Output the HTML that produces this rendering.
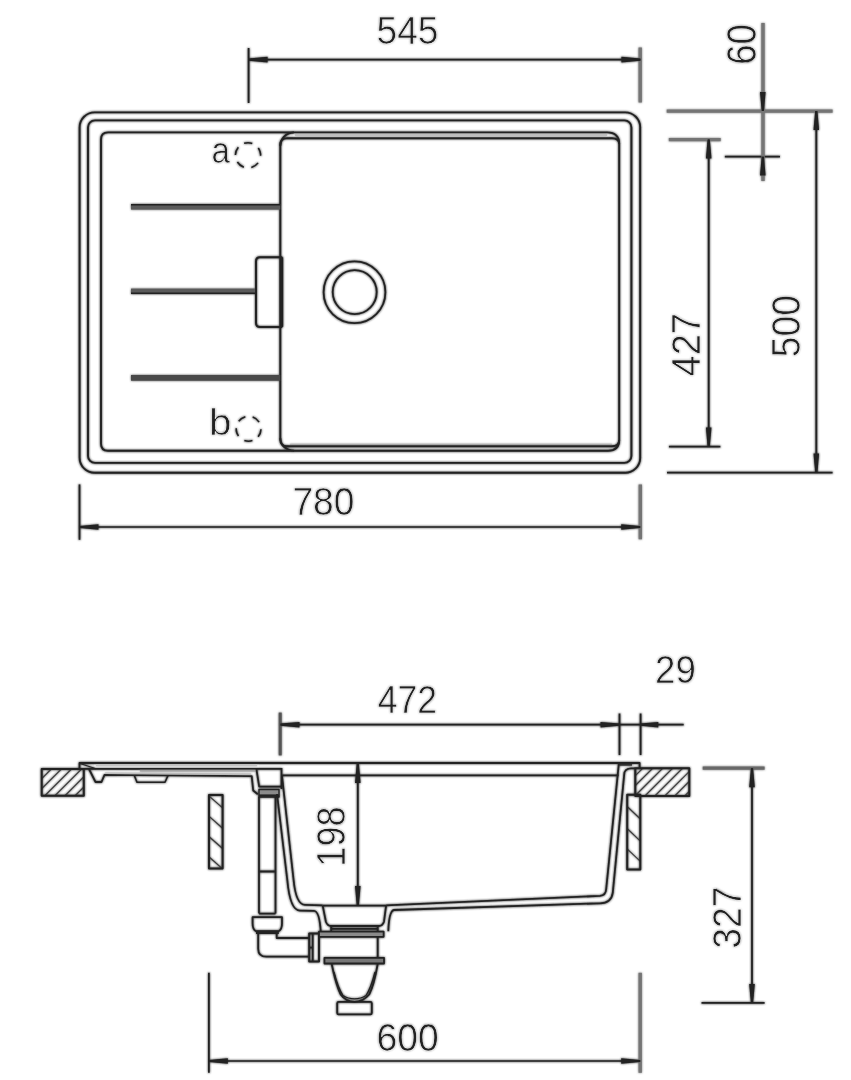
<!DOCTYPE html>
<html><head><meta charset="utf-8"><style>
html,body{margin:0;padding:0;background:#fff;}
body{width:851px;height:1080px;overflow:hidden;font-family:"Liberation Sans",sans-serif;}
svg{display:block;}
</style></head><body>
<svg width="851" height="1080" viewBox="0 0 851 1080">
<defs><filter id="soft" x="0" y="0" width="851" height="1080" filterUnits="userSpaceOnUse"><feGaussianBlur in="SourceGraphic" stdDeviation="1.0" result="b"/><feMerge><feMergeNode in="b"/><feMergeNode in="SourceGraphic"/></feMerge></filter></defs>
<rect width="851" height="1080" fill="#fff"/>
<g filter="url(#soft)">
<g stroke="#222" stroke-linecap="butt" stroke-linejoin="round">
<rect x="295" y="133.3" width="312" height="2.6" fill="#bdbdbd" stroke="none"/>
<rect x="290" y="443.8" width="322" height="1.6" fill="#a8a8a8" stroke="none"/>
<g stroke-width="1.9" fill="none">
<rect x="79.6" y="112.4" width="560.6" height="360.3" rx="15"/>
<rect x="88" y="120.4" width="543.4" height="342.5" rx="7"/>
<path d="M108,132.4 L607,132.4 Q619.2,132.4 619.2,144 L619.2,440 Q619.2,450.7 608,450.7 L108,450.7 Q101,450.7 101,443.7 L101,139.4 Q101,132.4 108,132.4 Z"/>
<path d="M619.2,144 Q619.2,138.3 612,138.3 L287,138.3 Q280.3,138.3 280.3,145 L280.3,439.6 Q280.3,446.3 287,446.3 L612,446.3 Q619.2,446.3 619.2,440"/>
<path d="M280.3,146 Q281,134 294,132.4"/>
<path d="M280.3,438 Q281,449.5 294,450.7"/>
</g>
<rect x="131" y="204" width="149.3" height="5.6" fill="#5a5a5a" stroke="none"/>
<line x1="131" y1="204.8" x2="280.3" y2="204.8" stroke-width="1.6"/>
<rect x="131" y="288.6" width="125" height="5.5" fill="#5a5a5a" stroke="none"/>
<line x1="131" y1="293.3" x2="256" y2="293.3" stroke-width="1.6"/>
<rect x="131" y="375" width="149.3" height="5.7" fill="#484848" stroke="none"/>
<path d="M282.3,257.3 L260,257.3 Q256,257.3 256,261.3 L256,322.9 Q256,326.9 260,326.9 L282.3,326.9" fill="none" stroke-width="2"/>
<line x1="281.7" y1="257.3" x2="281.7" y2="326.9" stroke-width="3"/>
<circle cx="354.5" cy="292.3" r="30.9" fill="none" stroke-width="1.8"/>
<circle cx="354.7" cy="292.1" r="22.0" fill="none" stroke-width="1.8"/>
<circle cx="248" cy="155.3" r="12.6" fill="none" stroke-width="1.6" stroke-dasharray="8.3 7.53" transform="rotate(-108 248 155.3)"/>
<circle cx="248.6" cy="428.8" r="12.4" fill="none" stroke-width="1.6" stroke-dasharray="8.2 7.38" transform="rotate(72 248.6 428.8)"/>
<clipPath id="c1"><rect x="41.7" y="768.9" width="42.099999999999994" height="26.800000000000068"/></clipPath>
<g clip-path="url(#c1)" stroke-width="1.2" stroke="#3a3a3a">
<line x1="19.59999999999991" y1="800.7" x2="56.39999999999998" y2="763.9"/>
<line x1="29.699999999999932" y1="800.7" x2="66.5" y2="763.9"/>
<line x1="39.799999999999955" y1="800.7" x2="76.60000000000002" y2="763.9"/>
<line x1="49.89999999999998" y1="800.7" x2="86.70000000000005" y2="763.9"/>
<line x1="60.0" y1="800.7" x2="96.80000000000007" y2="763.9"/>
<line x1="70.10000000000002" y1="800.7" x2="106.90000000000009" y2="763.9"/>
</g>
<rect x="41.7" y="768.9" width="42.099999999999994" height="26.800000000000068" fill="none" stroke-width="2"/>
<clipPath id="c2"><rect x="635.3" y="768.2" width="54.0" height="27.699999999999932"/></clipPath>
<g clip-path="url(#c2)" stroke-width="1.2" stroke="#3a3a3a">
<line x1="610.1" y1="800.9" x2="647.8" y2="763.2"/>
<line x1="620.0500000000001" y1="800.9" x2="657.75" y2="763.2"/>
<line x1="630.0000000000001" y1="800.9" x2="667.7" y2="763.2"/>
<line x1="639.9500000000002" y1="800.9" x2="677.6500000000001" y2="763.2"/>
<line x1="649.9000000000002" y1="800.9" x2="687.6000000000001" y2="763.2"/>
<line x1="659.8500000000003" y1="800.9" x2="697.5500000000002" y2="763.2"/>
<line x1="669.8000000000003" y1="800.9" x2="707.5000000000002" y2="763.2"/>
<line x1="679.7500000000003" y1="800.9" x2="717.4500000000003" y2="763.2"/>
</g>
<rect x="635.3" y="768.2" width="54.0" height="27.699999999999932" fill="none" stroke-width="2"/>
<clipPath id="w1"><rect x="209" y="795.1" width="13.599999999999994" height="73.5"/></clipPath>
<g clip-path="url(#w1)" stroke-width="1.2" stroke="#3a3a3a">
<line x1="207" y1="794.24" x2="224.6" y2="809.728"/>
<line x1="207" y1="814.54" x2="224.6" y2="830.0279999999999"/>
<line x1="207" y1="834.84" x2="224.6" y2="850.328"/>
<line x1="207" y1="855.14" x2="224.6" y2="870.6279999999999"/>
</g>
<rect x="209" y="795.1" width="13.599999999999994" height="73.5" fill="none" stroke-width="2"/>
<clipPath id="w2"><rect x="627.2" y="794.8" width="13.099999999999909" height="74.80000000000007"/></clipPath>
<g clip-path="url(#w2)" stroke-width="1.2" stroke="#3a3a3a">
<line x1="625.2" y1="804.6" x2="642.3" y2="820.8449999999999"/>
<line x1="625.2" y1="826.7" x2="642.3" y2="842.9449999999999"/>
<line x1="625.2" y1="847.0" x2="642.3" y2="863.2449999999999"/>
</g>
<rect x="627.2" y="794.8" width="13.099999999999909" height="74.80000000000007" fill="none" stroke-width="2"/>
<g stroke-width="1.8" fill="none">
<path d="M79.5,769 L79.5,763 L639.6,763 L639.6,768"/>
<line x1="80" y1="768.8" x2="281.5" y2="768.8" stroke-width="1.8"/>
<path d="M80,763.5 L96,768.8" stroke-width="1.2"/>
<rect x="96" y="764.2" width="161" height="2" fill="#c4c4c4" stroke="none"/>
<path d="M140,770.6 L257,770.6" stroke="#a0a0a0" stroke-width="1.6"/>
<path d="M89,769 L95.5,782 L101.5,782 L104.5,774.9 L251.7,776.2 L253.2,790.5 L257.8,794.3"/>
<path d="M105,773.2 L251,774.2" stroke="#bbb" stroke-width="1.4"/>
<path d="M134.2,775.3 L137,782.3 L165,782.3 L168,775.5" stroke-width="1.6"/>
<path d="M256.4,769 L259.2,786.6 L281.5,786.6 M281.5,768 L281.5,789"/>
<rect x="259" y="789.5" width="20" height="7.5" fill="#8a8a8a" stroke-width="1.4"/>
<line x1="259" y1="795.6" x2="279" y2="795.6" stroke-width="2.4"/>
<line x1="281.5" y1="775.3" x2="618.5" y2="775.3"/>
<path d="M282,776 L293.6,880 Q296,904.8 305,904.8 L322.7,905.3 M386.1,905.3 L600,895.9 Q605.8,895.5 606.2,889 L618.8,764"/>
<line x1="322.7" y1="905.6" x2="386.1" y2="905.6"/>
<path d="M277,794 L287.3,880 Q290,910.6 300,910.6 L314,910.8 Q319.5,911 320.8,932.3 M388.3,931.2 Q389,911 394,910 L600,903.3 Q611.5,903 612.8,892.6 L624.4,772.5 Q625.8,768.6 631,768.4 L635.3,768.4"/>
<path d="M619.2,764.9 L632,764.9" stroke-width="1.4"/>
<path d="M259,797 L259,913.6 M275.5,797 L275.5,913.6 M259,871.5 L275.5,871.5 M259,913.6 L275.5,913.6"/>
<path d="M252.6,917.2 H282 V923.5 Q282,929.5 278.6,931.2 H256 Q252.6,929.5 252.6,923.5 Z"/>
<rect x="256" y="931.2" width="22.8" height="2.8" fill="#222" stroke="none"/>
<path d="M258.2,934 L258.2,948.7 Q258.2,956.7 266.2,956.7 L309,956.7 M276.7,934 L276.7,938 L309,938"/>
<rect x="309.2" y="933.4" width="9.8" height="28" stroke-width="2"/>
<path d="M312.7,933.4 L312.7,961.4 M309.2,947.7 L312.7,947.7"/>
<path d="M322.7,905.6 L325.9,921.7 Q327.5,926 331.2,926 L378.7,926 Q382.5,926 384,921.7 L386.1,905.6"/>
<path d="M331.2,926 L331.2,932.3 M377.7,926 L377.7,958 M331.2,928.8 L377.7,928.8"/>
<rect x="319" y="931.6" width="64.6" height="5.2" fill="#8a8a8a" stroke-width="1.8"/>
<rect x="324.5" y="957.8" width="59.5" height="5.7" fill="#777" stroke-width="1.8"/>
<path d="M331.7,964 Q336,985 340.7,994.5 Q346,1001.8 354.5,1001.8 Q363,1001.8 369.2,994.5 Q374,985 377.7,964"/>
<path d="M334,972 Q338,988 343,995.5 Q348,998.8 354.5,998.8 Q361,998.8 366,995.5 Q371,988 375,972" stroke-width="1.3"/>
<rect x="337.2" y="1001.8" width="34.6" height="12.6" rx="1.5"/>
</g>
<line x1="248.6" y1="48" x2="248.6" y2="103" stroke-width="1.8"/>
<line x1="640.2" y1="47.5" x2="640.2" y2="102.5" stroke="#747474" stroke-width="3.4"/>
<line x1="248.6" y1="59.6" x2="640.4" y2="59.6" stroke-width="1.7"/>
<path d="M248.60,58.50 L267.60,56.80 L267.60,62.40 L248.60,60.70 Z" fill="#222" stroke="none"/>
<path d="M640.40,60.70 L621.40,62.40 L621.40,56.80 L640.40,58.50 Z" fill="#222" stroke="none"/>
<line x1="666.7" y1="111.1" x2="832.6" y2="111.1" stroke="#747474" stroke-width="3.4"/>
<line x1="724.8" y1="156.6" x2="780" y2="156.6" stroke-width="1.7"/>
<line x1="668.8" y1="139.6" x2="720.7" y2="139.6" stroke="#747474" stroke-width="3.4"/>
<line x1="668.9" y1="446.6" x2="720.4" y2="446.6" stroke-width="1.9"/>
<line x1="667" y1="472.6" x2="832.6" y2="472.6" stroke-width="1.9"/>
<line x1="763" y1="23" x2="763" y2="181" stroke="#747474" stroke-width="3.4"/>
<path d="M761.70,111.00 L760.00,92.00 L765.60,92.00 L763.90,111.00 Z" fill="#222" stroke="none"/>
<path d="M763.90,156.60 L765.60,175.60 L760.00,175.60 L761.70,156.60 Z" fill="#222" stroke="none"/>
<line x1="708.7" y1="139.5" x2="708.7" y2="446.6" stroke-width="1.8"/>
<path d="M709.80,139.50 L711.50,158.50 L705.90,158.50 L707.60,139.50 Z" fill="#222" stroke="none"/>
<path d="M707.60,446.60 L705.90,427.60 L711.50,427.60 L709.80,446.60 Z" fill="#222" stroke="none"/>
<line x1="816.3" y1="111" x2="816.3" y2="472.6" stroke-width="1.8"/>
<path d="M817.40,111.00 L819.10,130.00 L813.50,130.00 L815.20,111.00 Z" fill="#222" stroke="none"/>
<path d="M815.20,472.60 L813.50,453.60 L819.10,453.60 L817.40,472.60 Z" fill="#222" stroke="none"/>
<line x1="79.5" y1="484.4" x2="79.5" y2="539.8" stroke-width="1.8"/>
<line x1="640.3" y1="484.5" x2="640.3" y2="539.3" stroke="#747474" stroke-width="3.4"/>
<line x1="79.5" y1="527" x2="640.2" y2="527" stroke-width="1.7"/>
<path d="M79.50,525.90 L98.50,524.20 L98.50,529.80 L79.50,528.10 Z" fill="#222" stroke="none"/>
<path d="M640.20,528.10 L621.20,529.80 L621.20,524.20 L640.20,525.90 Z" fill="#222" stroke="none"/>
<line x1="280.2" y1="712.6" x2="280.2" y2="755.4" stroke="#555" stroke-width="3"/>
<line x1="619.5" y1="713.5" x2="619.5" y2="755.1" stroke-width="1.8"/>
<line x1="640.6" y1="713.5" x2="640.6" y2="755.1" stroke-width="1.8"/>
<line x1="280.5" y1="724.7" x2="683.7" y2="724.7" stroke-width="1.7"/>
<path d="M280.50,723.60 L299.50,721.90 L299.50,727.50 L280.50,725.80 Z" fill="#222" stroke="none"/>
<path d="M619.50,725.80 L600.50,727.50 L600.50,721.90 L619.50,723.60 Z" fill="#222" stroke="none"/>
<path d="M640.60,723.60 L658.30,721.90 L658.30,727.50 L640.60,725.80 Z" fill="#222" stroke="none"/>
<line x1="357.8" y1="763" x2="357.8" y2="905" stroke-width="1.8"/>
<path d="M358.90,764.00 L360.60,783.00 L355.00,783.00 L356.70,764.00 Z" fill="#222" stroke="none"/>
<path d="M356.70,905.00 L355.00,886.00 L360.60,886.00 L358.90,905.00 Z" fill="#222" stroke="none"/>
<line x1="702.7" y1="768.2" x2="764.6" y2="768.2" stroke="#686868" stroke-width="3.2"/>
<line x1="701.5" y1="1002.9" x2="764.6" y2="1002.9" stroke-width="1.9"/>
<line x1="752" y1="768.3" x2="752" y2="1002.9" stroke-width="1.8"/>
<path d="M753.10,768.30 L754.80,787.30 L749.20,787.30 L750.90,768.30 Z" fill="#222" stroke="none"/>
<path d="M750.90,1002.90 L749.20,983.90 L754.80,983.90 L753.10,1002.90 Z" fill="#222" stroke="none"/>
<line x1="208.9" y1="972.8" x2="208.9" y2="1072.8" stroke-width="1.8"/>
<line x1="640.2" y1="972.8" x2="640.2" y2="1072.8" stroke="#747474" stroke-width="3.4"/>
<line x1="208.9" y1="1061" x2="640.2" y2="1061" stroke-width="1.7"/>
<path d="M208.90,1059.90 L227.90,1058.20 L227.90,1063.80 L208.90,1062.10 Z" fill="#222" stroke="none"/>
<path d="M640.20,1062.10 L621.20,1063.80 L621.20,1058.20 L640.20,1059.90 Z" fill="#222" stroke="none"/>
</g>
<g fill="#222" font-family="Liberation Sans, sans-serif" stroke="#fff" stroke-width="0.6" paint-order="fill">
<text x="0" y="0" font-size="37.24" transform="translate(211.59,162.64) scale(0.8888,1)" >a</text>
<text x="0" y="0" font-size="37.45" transform="translate(209.09,434.73) scale(1.0808,1)" >b</text>
<text x="0" y="0" font-size="39.27" transform="translate(376.51,43.62) scale(0.9455,1)" >545</text>
<text x="0" y="0" font-size="41.81" transform="translate(756.19,64.86) rotate(-90) scale(0.8749,1)" >60</text>
<text x="0" y="0" font-size="40.53" transform="translate(699.60,376.58) rotate(-90) scale(0.9419,1)" >427</text>
<text x="0" y="0" font-size="40.96" transform="translate(799.60,357.19) rotate(-90) scale(0.9078,1)" >500</text>
<text x="0" y="0" font-size="39.27" transform="translate(292.39,515.32) scale(0.9473,1)" >780</text>
<text x="0" y="0" font-size="39.53" transform="translate(377.78,713.10) scale(0.8992,1)" >472</text>
<text x="0" y="0" font-size="38.84" transform="translate(655.05,682.72) scale(0.9465,1)" >29</text>
<text x="0" y="0" font-size="40.40" transform="translate(344.51,866.65) rotate(-90) scale(0.8935,1)" >198</text>
<text x="0" y="0" font-size="40.11" transform="translate(740.81,948.72) rotate(-90) scale(0.9309,1)" >327</text>
<text x="0" y="0" font-size="38.98" transform="translate(376.41,1051.12) scale(0.9571,1)" >600</text>
</g>
</g>
</svg>
</body></html>
